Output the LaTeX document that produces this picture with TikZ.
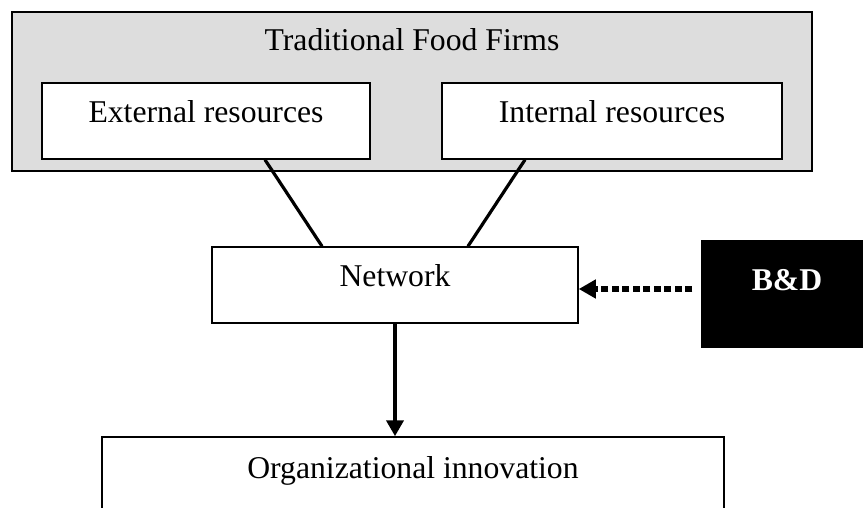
\documentclass[tikz,border=0pt]{standalone}
\usepackage{fontspec}
\setmainfont{Liberation Serif}
\usetikzlibrary{arrows.meta}
\definecolor{firmgray}{RGB}{221,221,221}
\tikzset{
  box/.style={draw=black, line width=1.5pt, fill=white, inner sep=0pt, rectangle,
    font=\fontsize{31.7}{36}\selectfont, text height=22pt, text depth=18pt},
  link/.style={line width=3.2pt},
  flow/.style={line width=4.5pt, -{Triangle[length=16pt,width=17pt]}},
  dots/.style={line width=6pt, dash pattern=on 7pt off 3.5pt, -{Triangle[length=17pt,width=18pt]}}
}
\begin{document}
\begin{tikzpicture}[x=1pt,y=-1pt]
\useasboundingbox (0,0) rectangle (863,508);
\fill[white] (0,0) rectangle (863,508);
% outer group
\node[box, fill=firmgray, minimum width=800pt, minimum height=159pt, text height=0pt, text depth=0pt] (firms) at (412,91.5) {};
\node[anchor=base, inner sep=0pt, font=\fontsize{31.7}{36}\selectfont] (title) at (412,51) {Traditional Food Firms};
\node[box, minimum width=328pt, minimum height=76pt] (ext) at (206,121) {External resources};
\node[box, minimum width=340pt, minimum height=76pt] (int) at (612,121) {Internal resources};
\node[box, minimum width=366pt, minimum height=76pt] (net) at (395,285) {Network};
\node[box, fill=black, draw=black, text=white, font=\fontsize{31.7}{36}\selectfont\bfseries,
      minimum width=170pt, minimum height=106pt, text height=15pt, text depth=23pt] (bd) at (787,294) {B\&D};
\node[box, minimum width=622pt, minimum height=103pt, text height=20pt, text depth=41pt] (org) at (413,488.5) {Organizational innovation};
% connectors
\draw[link] ([xshift=59pt]ext.south) -- ([xshift=-73pt]net.north);
\draw[link] ([xshift=-87pt]int.south) -- ([xshift=73pt]net.north);
\draw[flow] (net.south) -- (net.south |- org.north);
\draw[dots, shorten <=9pt] ([yshift=5pt]bd.west) -- ([yshift=-4pt]net.east);
\end{tikzpicture}
\end{document}
